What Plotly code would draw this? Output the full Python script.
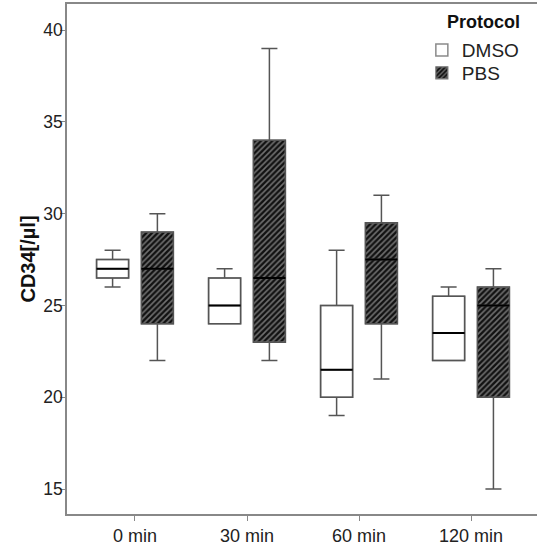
import plotly.graph_objects as go

categories = ["0 min", "30 min", "60 min", "120 min"]
groups = ["DMSO", "PBS"]

dmso_low = [26, 24, 19, 22]
dmso_q1 = [26.5, 24, 20, 22]
dmso_med = [27, 25, 21.5, 23.5]
dmso_q3 = [27.5, 26.5, 25, 25.5]
dmso_high = [28, 27, 28, 26]

pbs_low = [22, 22, 21, 15]
pbs_q1 = [24, 23, 24, 20]
pbs_med = [27, 26.5, 27.5, 25]
pbs_q3 = [29, 34, 29.5, 26]
pbs_high = [30, 39, 31, 27]

y_ticks = [15, 20, 25, 30, 35, 40]

OFFSET = 0.2
BOXW = 0.286
FONT = "Liberation Sans, Arial, sans-serif"

idx = list(range(len(categories)))
x_dmso = [i - OFFSET for i in idx]
x_pbs = [i + OFFSET for i in idx]

fig = go.Figure()

# Box bodies as bars (legend entries)
fig.add_trace(go.Bar(
    x=x_dmso, base=dmso_q1, y=[h - l for h, l in zip(dmso_q3, dmso_q1)],
    width=BOXW, name=groups[0], legend="legend",
    marker=dict(color="white", line=dict(color="#8a8a8a", width=1.5)),
    hoverinfo="skip",
))
fig.add_trace(go.Bar(
    x=x_pbs, base=pbs_q1, y=[h - l for h, l in zip(pbs_q3, pbs_q1)],
    width=BOXW, name=groups[1], legend="legend2",
    marker=dict(color="#111111", line=dict(color="#777777", width=1.2),
                pattern=dict(shape="/", fgcolor="#cfcfcf", bgcolor="#111111",
                             size=4, solidity=0.4, fillmode="overlay")),
    hoverinfo="skip",
))

# Whiskers and outlines
for xs, lo, q1, med, q3, hi in [
    (x_dmso, dmso_low, dmso_q1, dmso_med, dmso_q3, dmso_high),
    (x_pbs, pbs_low, pbs_q1, pbs_med, pbs_q3, pbs_high),
]:
    fig.add_trace(go.Box(
        x=xs, q1=q1, median=med, q3=q3, lowerfence=lo, upperfence=hi,
        width=BOXW, whiskerwidth=0.5, fillcolor="rgba(0,0,0,0)",
        line=dict(color="#555555", width=1.5), boxpoints=False,
        showlegend=False, hoverinfo="skip",
    ))
    # median line (degenerate box)
    fig.add_trace(go.Box(
        x=xs, q1=med, median=med, q3=med, lowerfence=med, upperfence=med,
        width=BOXW, whiskerwidth=0, fillcolor="rgba(0,0,0,0)",
        line=dict(color="#000000", width=2), boxpoints=False,
        showlegend=False, hoverinfo="skip",
    ))

legend_common = dict(
    xanchor="left", yanchor="top", bgcolor="rgba(0,0,0,0)",
    font=dict(size=19, color="#222222"), itemwidth=30,
)

fig.update_layout(
    width=537, height=546,
    margin=dict(l=67, r=0, t=4, b=29),
    plot_bgcolor="white", paper_bgcolor="white",
    barmode="overlay",
    font=dict(family=FONT, size=18, color="#222222"),
    showlegend=True,
    legend=dict(x=0.755, y=0.947, **legend_common),
    legend2=dict(x=0.755, y=0.902, **legend_common),
    annotations=[dict(
        text="<b>Protocol</b>", xref="paper", yref="paper",
        x=0.804, y=0.965, xanchor="left", yanchor="middle", showarrow=False,
        font=dict(family=FONT, size=18, color="#111111"),
    )],
)

fig.update_xaxes(
    range=[-0.607, 3.589], tickmode="array", tickvals=idx, ticktext=categories,
    showgrid=False, zeroline=False, showline=True, linecolor="#888888", linewidth=1.5,
    mirror=True, ticks="outside", ticklen=5, tickcolor="#888888",
    tickfont=dict(size=18, color="#222222"),
)
fig.update_yaxes(
    range=[13.64, 41.42], tickmode="array", tickvals=y_ticks,
    showgrid=False, zeroline=False, showline=True, linecolor="#888888", linewidth=1.5,
    ticks="outside", ticklen=5, tickcolor="#888888", ticklabelstandoff=-6,
    tickfont=dict(size=17.5, color="#222222"),
    title=dict(text="<b>CD34[/µl]</b>", font=dict(size=20, color="#111111"), standoff=2),
)

fig.write_html("out.html", config={"displayModeBar": False},
               post_script="document.body.style.margin='0';")
